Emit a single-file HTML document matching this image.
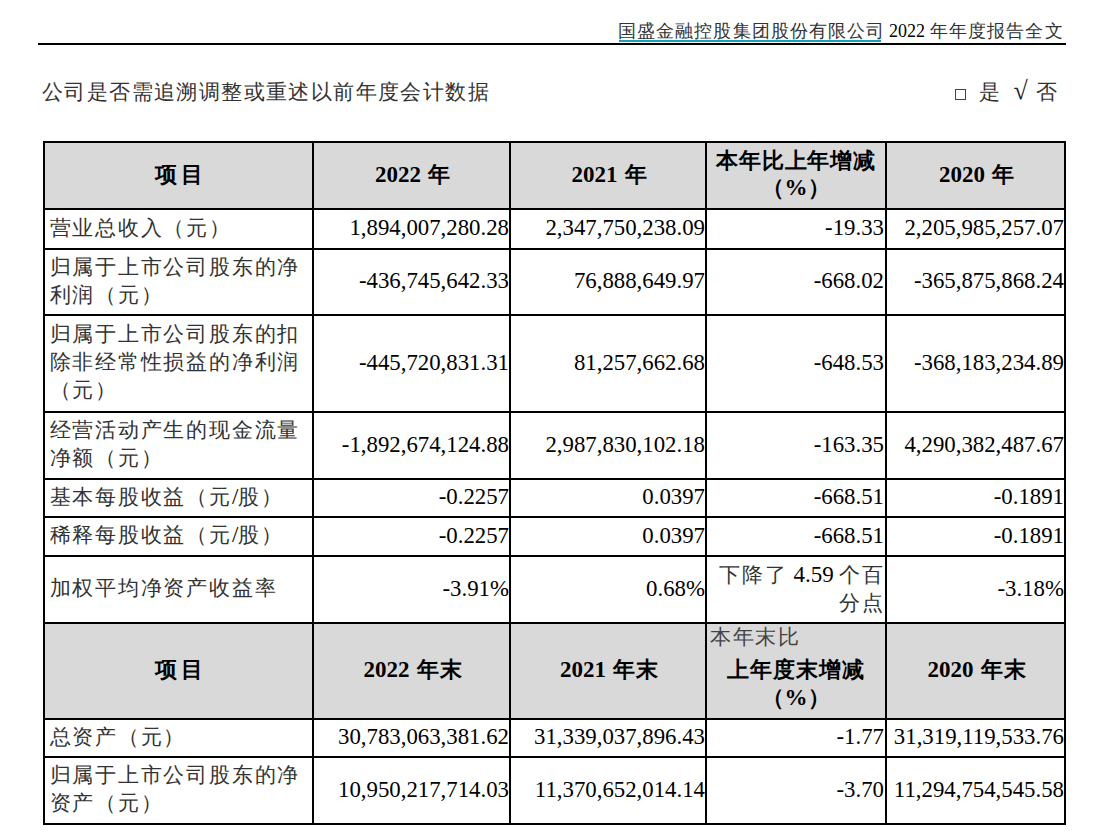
<!DOCTYPE html>
<html><head><meta charset="utf-8"><style>
html,body{margin:0;padding:0;background:#fff;}
body{width:1106px;height:831px;position:relative;overflow:hidden;font-family:"Liberation Serif",serif;color:#000;}
.l{position:absolute;background:#000;}
.g{position:absolute;background:#d9d9d9;}
.t,.b,.s,.h,.n{position:absolute;white-space:nowrap;font-size:23px;line-height:28px;}
.n{font-size:22.8px;}
.b{font-weight:bold;word-spacing:1.5px;}
.c{font-size:21px;letter-spacing:1.8px;color:#333;} .cb{font-size:22px;letter-spacing:0.9px;} .ct{font-size:21px;letter-spacing:1.4px;color:#333;} .ch{font-size:18px;letter-spacing:1.1px;color:#333;} .h{font-size:18.7px;line-height:22px;} .s{font-family:'Liberation Sans',sans-serif;font-size:21px;letter-spacing:1.6px;color:#444;line-height:24px;}
</style></head><body>
<div class="h" style="left:618px;top:20px;"><span class="ch">国盛金融控股集团股份有限公司</span></div>
<div class="h" style="left:889px;top:20px;font-size:18px">2022</div>
<div class="h" style="left:930px;top:20px;"><span class="ch">年年度报告全文</span></div>
<div class="l" style="left:619px;top:40px;width:262px;height:2px;background:#17a3b5"></div>
<div class="l" style="left:38px;top:43px;width:1028px;height:2px"></div>
<div class="t" style="left:42px;top:78px;"><span class="ct">公司是否需追溯调整或重述以前年度会计数据</span></div>
<div class='t' style='left:955px;top:89px;width:11px;height:11px;box-sizing:border-box;border:1.2px solid #444'></div><div class='t' style='left:979px;top:78px'><span class='c'>是</span></div><div class='t' style='left:1013.5px;top:76px;font-size:26px;line-height:30px;color:#222'>√</div><div class='t' style='left:1036px;top:78px'><span class='c'>否</span></div>
<div class="g" style="left:43px;top:141px;width:1021px;height:67px"></div>
<div class="g" style="left:43px;top:622px;width:1021px;height:96px"></div>
<div class="l" style="left:43px;top:141px;width:1023px;height:2px"></div>
<div class="l" style="left:43px;top:208px;width:1023px;height:2px"></div>
<div class="l" style="left:43px;top:248px;width:1023px;height:2px"></div>
<div class="l" style="left:43px;top:314px;width:1023px;height:2px"></div>
<div class="l" style="left:43px;top:411px;width:1023px;height:2px"></div>
<div class="l" style="left:43px;top:478px;width:1023px;height:2px"></div>
<div class="l" style="left:43px;top:516px;width:1023px;height:2px"></div>
<div class="l" style="left:43px;top:555px;width:1023px;height:2px"></div>
<div class="l" style="left:43px;top:622px;width:1023px;height:2px"></div>
<div class="l" style="left:43px;top:718px;width:1023px;height:2px"></div>
<div class="l" style="left:43px;top:756px;width:1023px;height:2px"></div>
<div class="l" style="left:43px;top:823px;width:1023px;height:2px"></div>
<div class="l" style="left:43px;top:141px;width:2px;height:684px"></div>
<div class="l" style="left:312px;top:141px;width:2px;height:684px"></div>
<div class="l" style="left:509px;top:141px;width:2px;height:684px"></div>
<div class="l" style="left:705px;top:141px;width:2px;height:684px"></div>
<div class="l" style="left:885px;top:141px;width:2px;height:684px"></div>
<div class="l" style="left:1064px;top:141px;width:2px;height:684px"></div>
<div class="b" style="left:155px;top:160.5px;"><span class="cb" style="letter-spacing:4.3px">项</span><span class="cb">目</span></div>
<div class="b" style="left:263.0px;top:160.5px;width:300px;text-align:center;">2022 <span class="cb">年</span></div>
<div class="b" style="left:459.5px;top:160.5px;width:300px;text-align:center;">2021 <span class="cb">年</span></div>
<div class="b" style="left:646.0px;top:146.5px;width:300px;text-align:center;line-height:27px"><span class="cb">本年比上年增减</span><br><span class="cb">（</span>%<span class="cb">）</span></div>
<div class="b" style="left:827.0px;top:160.5px;width:300px;text-align:center;">2020 <span class="cb">年</span></div>
<div class="t" style="left:49.5px;top:213.5px;"><span class="c">营业总收入（元）</span></div>
<div class="n" style="right:597px;top:214.0px;text-align:right;">1,894,007,280.28</div>
<div class="n" style="right:401px;top:214.0px;text-align:right;">2,347,750,238.09</div>
<div class="n" style="right:222px;top:214.0px;text-align:right;">-19.33</div>
<div class="n" style="right:42px;top:214.0px;text-align:right;">2,205,985,257.07</div>
<div class="t" style="left:49.5px;top:252.5px;"><span class="c">归属于上市公司股东的净</span><br><span class="c">利润（元）</span></div>
<div class="n" style="right:597px;top:267.0px;text-align:right;">-436,745,642.33</div>
<div class="n" style="right:401px;top:267.0px;text-align:right;">76,888,649.97</div>
<div class="n" style="right:222px;top:267.0px;text-align:right;">-668.02</div>
<div class="n" style="right:42px;top:267.0px;text-align:right;">-365,875,868.24</div>
<div class="t" style="left:49.5px;top:320.0px;"><span class="c">归属于上市公司股东的扣</span><br><span class="c">除非经常性损益的净利润</span><br><span class="c">（元）</span></div>
<div class="n" style="right:597px;top:348.5px;text-align:right;">-445,720,831.31</div>
<div class="n" style="right:401px;top:348.5px;text-align:right;">81,257,662.68</div>
<div class="n" style="right:222px;top:348.5px;text-align:right;">-648.53</div>
<div class="n" style="right:42px;top:348.5px;text-align:right;">-368,183,234.89</div>
<div class="t" style="left:49.5px;top:416.0px;"><span class="c">经营活动产生的现金流量</span><br><span class="c">净额（元）</span></div>
<div class="n" style="right:597px;top:430.5px;text-align:right;">-1,892,674,124.88</div>
<div class="n" style="right:401px;top:430.5px;text-align:right;">2,987,830,102.18</div>
<div class="n" style="right:222px;top:430.5px;text-align:right;">-163.35</div>
<div class="n" style="right:42px;top:430.5px;text-align:right;">4,290,382,487.67</div>
<div class="t" style="left:49.5px;top:482.5px;"><span class="c">基本每股收益（元</span>/<span class="c">股）</span></div>
<div class="n" style="right:597px;top:483.0px;text-align:right;">-0.2257</div>
<div class="n" style="right:401px;top:483.0px;text-align:right;">0.0397</div>
<div class="n" style="right:222px;top:483.0px;text-align:right;">-668.51</div>
<div class="n" style="right:42px;top:483.0px;text-align:right;">-0.1891</div>
<div class="t" style="left:49.5px;top:521.0px;"><span class="c">稀释每股收益（元</span>/<span class="c">股）</span></div>
<div class="n" style="right:597px;top:521.5px;text-align:right;">-0.2257</div>
<div class="n" style="right:401px;top:521.5px;text-align:right;">0.0397</div>
<div class="n" style="right:222px;top:521.5px;text-align:right;">-668.51</div>
<div class="n" style="right:42px;top:521.5px;text-align:right;">-0.1891</div>
<div class="t" style="left:49.5px;top:574.0px;"><span class="c">加权平均净资产收益率</span></div>
<div class="n" style="right:597px;top:574.5px;text-align:right;">-3.91%</div>
<div class="n" style="right:401px;top:574.5px;text-align:right;">0.68%</div>
<div class="n" style="right:42px;top:574.5px;text-align:right;">-3.18%</div>
<div class="t" style="left:49.5px;top:722.5px;"><span class="c">总资产（元）</span></div>
<div class="n" style="right:597px;top:723.0px;text-align:right;">30,783,063,381.62</div>
<div class="n" style="right:401px;top:723.0px;text-align:right;">31,339,037,896.43</div>
<div class="n" style="right:222px;top:723.0px;text-align:right;">-1.77</div>
<div class="n" style="right:42px;top:723.0px;text-align:right;">31,319,119,533.76</div>
<div class="t" style="left:49.5px;top:761.0px;"><span class="c">归属于上市公司股东的净</span><br><span class="c">资产（元）</span></div>
<div class="n" style="right:597px;top:775.5px;text-align:right;">10,950,217,714.03</div>
<div class="n" style="right:401px;top:775.5px;text-align:right;">11,370,652,014.14</div>
<div class="n" style="right:222px;top:775.5px;text-align:right;">-3.70</div>
<div class="n" style="right:42px;top:775.5px;text-align:right;">11,294,754,545.58</div>
<div class="t" style="right:221px;top:560.5px;text-align:right;"><span class="c">下降了</span> 4.59 <span class="c">个百</span><br><span class="c">分点</span></div>
<div class="b" style="left:155px;top:656.0px;"><span class="cb" style="letter-spacing:4.3px">项</span><span class="cb">目</span></div>
<div class="b" style="left:263.0px;top:656.0px;width:300px;text-align:center;">2022 <span class="cb">年末</span></div>
<div class="b" style="left:459.5px;top:656.0px;width:300px;text-align:center;">2021 <span class="cb">年末</span></div>
<div class="s" style="left:710px;top:625px;">本年末比</div>
<div class="b" style="left:646.0px;top:656px;width:300px;text-align:center;"><span class="cb">上年度末增减</span><br><span class="cb">（</span>%<span class="cb">）</span></div>
<div class="b" style="left:827.0px;top:656.0px;width:300px;text-align:center;">2020 <span class="cb">年末</span></div>
</body></html>
